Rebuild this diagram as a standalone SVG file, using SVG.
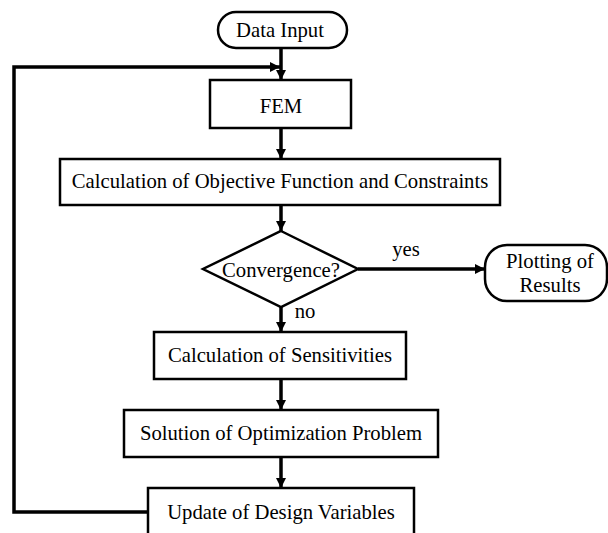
<svg xmlns="http://www.w3.org/2000/svg" width="608" height="533" viewBox="0 0 608 533">
<defs>
<style>
.box{fill:#fff;stroke:#000;stroke-width:2.5}
.t{font-family:"Liberation Serif","Times New Roman",serif;font-size:20.7px;fill:#000;text-anchor:middle}
.c{fill:none;stroke:#000;stroke-width:3.5}
</style>
<marker id="ah" viewBox="0 0 10 10" refX="10" refY="5" markerWidth="10" markerHeight="10" markerUnits="userSpaceOnUse" orient="auto">
<path d="M0,0 L10,5 L0,10 Z" fill="#000"/>
</marker>
</defs>
<rect width="608" height="533" fill="#fff"/>
<g id="connectors">
<line class="c" x1="281" y1="48" x2="281" y2="80" marker-end="url(#ah)"/>
<polyline class="c" points="148,512 14,512 14,67 280,67" marker-end="url(#ah)"/>
<line class="c" x1="281" y1="128" x2="281" y2="159" marker-end="url(#ah)"/>
<line class="c" x1="281" y1="205" x2="281" y2="231" marker-end="url(#ah)"/>
<line class="c" x1="358" y1="269" x2="485" y2="269" marker-end="url(#ah)"/>
<line class="c" x1="281" y1="307" x2="281" y2="332" marker-end="url(#ah)"/>
<line class="c" x1="281" y1="379" x2="281" y2="410" marker-end="url(#ah)"/>
<line class="c" x1="281" y1="457" x2="281" y2="488" marker-end="url(#ah)"/>
<text class="t" x="406" y="256">yes</text>
<text class="t" x="305" y="318">no</text>
</g>
<g id="data-input">
<rect class="box" x="218" y="12" width="129" height="36" rx="18"/>
<text class="t" x="280" y="37">Data Input</text>
</g>
<g id="fem">
<rect class="box" x="210" y="80" width="141" height="48"/>
<text class="t" x="281" y="113">FEM</text>
</g>
<g id="objective">
<rect class="box" x="60" y="159" width="440" height="46"/>
<text class="t" x="280" y="188">Calculation of Objective Function and Constraints</text>
</g>
<g id="convergence">
<polygon class="box" points="281,231 358,269 281,307 203,269"/>
<text class="t" x="281" y="277">Convergence?</text>
</g>
<g id="plotting">
<rect class="box" x="485" y="245" width="122" height="56" rx="22"/>
<text class="t" x="550" y="268">Plotting of</text>
<text class="t" x="550" y="292">Results</text>
</g>
<g id="sensitivities">
<rect class="box" x="154" y="332" width="252" height="47"/>
<text class="t" x="280" y="362">Calculation of Sensitivities</text>
</g>
<g id="solution">
<rect class="box" x="124" y="410" width="314" height="47"/>
<text class="t" x="281" y="440">Solution of Optimization Problem</text>
</g>
<g id="update">
<rect class="box" x="148" y="488" width="266" height="70"/>
<text class="t" x="281" y="519">Update of Design Variables</text>
</g>
</svg>
